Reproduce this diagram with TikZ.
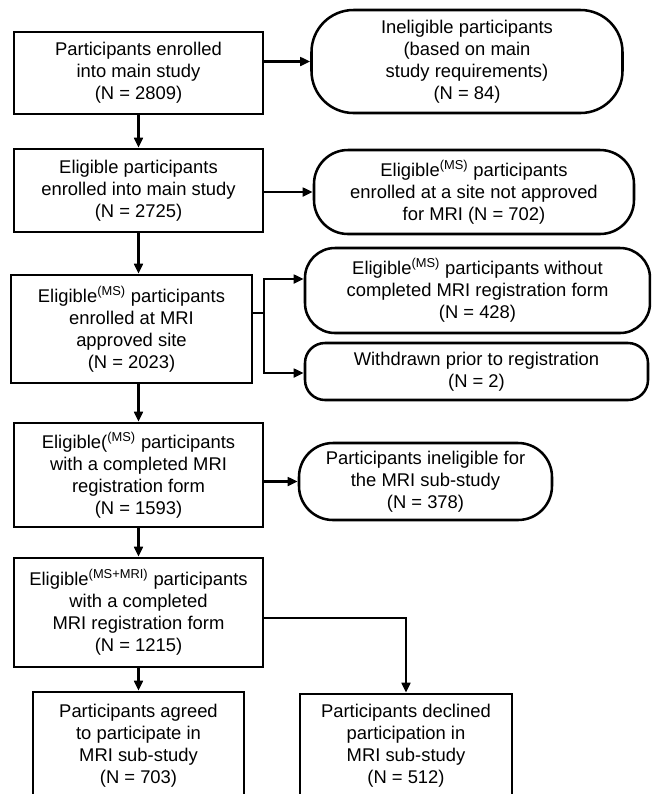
\documentclass[tikz,border=0pt]{standalone}
\usepackage{fontspec}
\setmainfont{Liberation Sans}
\usetikzlibrary{arrows.meta}
\usetikzlibrary{positioning}
\newlength{\px}
\setlength{\px}{0.75pt}
\tikzset{
	flowtext/.style={align=center, inner sep=0pt, font=\fontsize{13.8}{16.5}\selectfont},
	studybox/.style={flowtext, draw, line width=1.9pt, rectangle},
	dropbox/.style={flowtext, draw, line width=1.9pt, rectangle, rounded corners=#1},
	arr/.style={-{Triangle[length=7.5pt,width=6.5pt]}, line width=1.9pt}
}
\begin{document}
\begin{tikzpicture}[x=0.75pt, y=-0.75pt]

					\useasboundingbox (0,0) rectangle (651,794);
					\clip (0,0) rectangle (651,794);

					\node[studybox, minimum width=249\px, minimum height=82\px] (enrolled) at (138.5,73) {Participants enrolled\\into main study\\(N = 2809)};
					\node[dropbox=42\px, minimum width=311\px, minimum height=103\px] (ineligible) at (467,61.5) {Ineligible participants\\(based on main\\study requirements)\\(N = 84)};

					\node[studybox, minimum width=249\px, minimum height=83\px] (eligible) at (138.5,190.5) {Eligible participants\\enrolled into main study\\(N = 2725)};
					\node[dropbox=34\px, minimum width=320\px, minimum height=84\px] (notapproved) at (474,192) {Eligible\textsuperscript{(MS)} participants\\enrolled at a site not approved\\for MRI (N = 702)};

					\node[studybox, minimum width=241\px, minimum height=108\px] (approved) at (131.5,329) {Eligible\textsuperscript{(MS)} participants\\enrolled at MRI\\approved site\\(N = 2023)};
					\node[dropbox=30\px, minimum width=345\px, minimum height=85\px] (noform) at (477.5,290.5) {Eligible\textsuperscript{(MS)} participants without\\completed MRI registration form\\(N = 428)};
					\node[dropbox=20\px, minimum width=343\px, minimum height=57\px] (withdrawn) at (476.5,371.5) {Withdrawn prior to registration\\(N = 2)};

					\node[studybox, minimum width=249\px, minimum height=104\px] (completed) at (138.5,475) {Eligible(\textsuperscript{(MS)} participants\\with a completed MRI\\registration form\\(N = 1593)};
					\node[dropbox=34\px, minimum width=253\px, minimum height=77\px] (notsub) at (425.5,481.5) {Participants ineligible for\\the MRI sub-study\\(N = 378)};

					\node[studybox, minimum width=249\px, minimum height=109\px] (mrieligible) at (138.5,612.5) {Eligible\textsuperscript{(MS+MRI)} participants\\with a completed\\MRI registration form\\(N = 1215)};

					\node[studybox, minimum width=211\px, minimum height=108\px] (agreed) at (138.5,746) {Participants agreed\\to participate in\\MRI sub-study\\(N = 703)};
					\node[studybox, minimum width=212\px, minimum height=104\px] (declined) at (406,746) {Participants declined\\participation in\\MRI sub-study\\(N = 512)};

					\coordinate (fork) at (264,313);
					\coordinate (forktop) at (264,279);
					\coordinate (forkbot) at (264,373);
					\coordinate (split) at (263,618);

					\draw[arr] (enrolled.east |- ineligible.west) -- (ineligible.west);
					\draw[arr] (enrolled) -- (eligible);
					\draw[arr] (eligible.east |- notapproved.west) -- (notapproved.west);
					\draw[arr] (eligible.south) -- (eligible.south |- approved.north);
					\draw[line width=1.9pt] (approved.east |- fork) -- (fork);
					\draw[arr] (fork) -- (forktop) -- (forktop -| noform.west);
					\draw[arr] (fork) -- (forkbot) -- (forkbot -| withdrawn.west);
					\draw[arr] (completed.north |- approved.south) -- (completed.north);
					\draw[arr] (completed.east |- notsub.west) -- (notsub.west);
					\draw[arr] (completed) -- (mrieligible);
					\draw[arr] (mrieligible) -- (agreed);
					\draw[arr] (split) -| (declined.north);

				\end{tikzpicture}
\end{document}
